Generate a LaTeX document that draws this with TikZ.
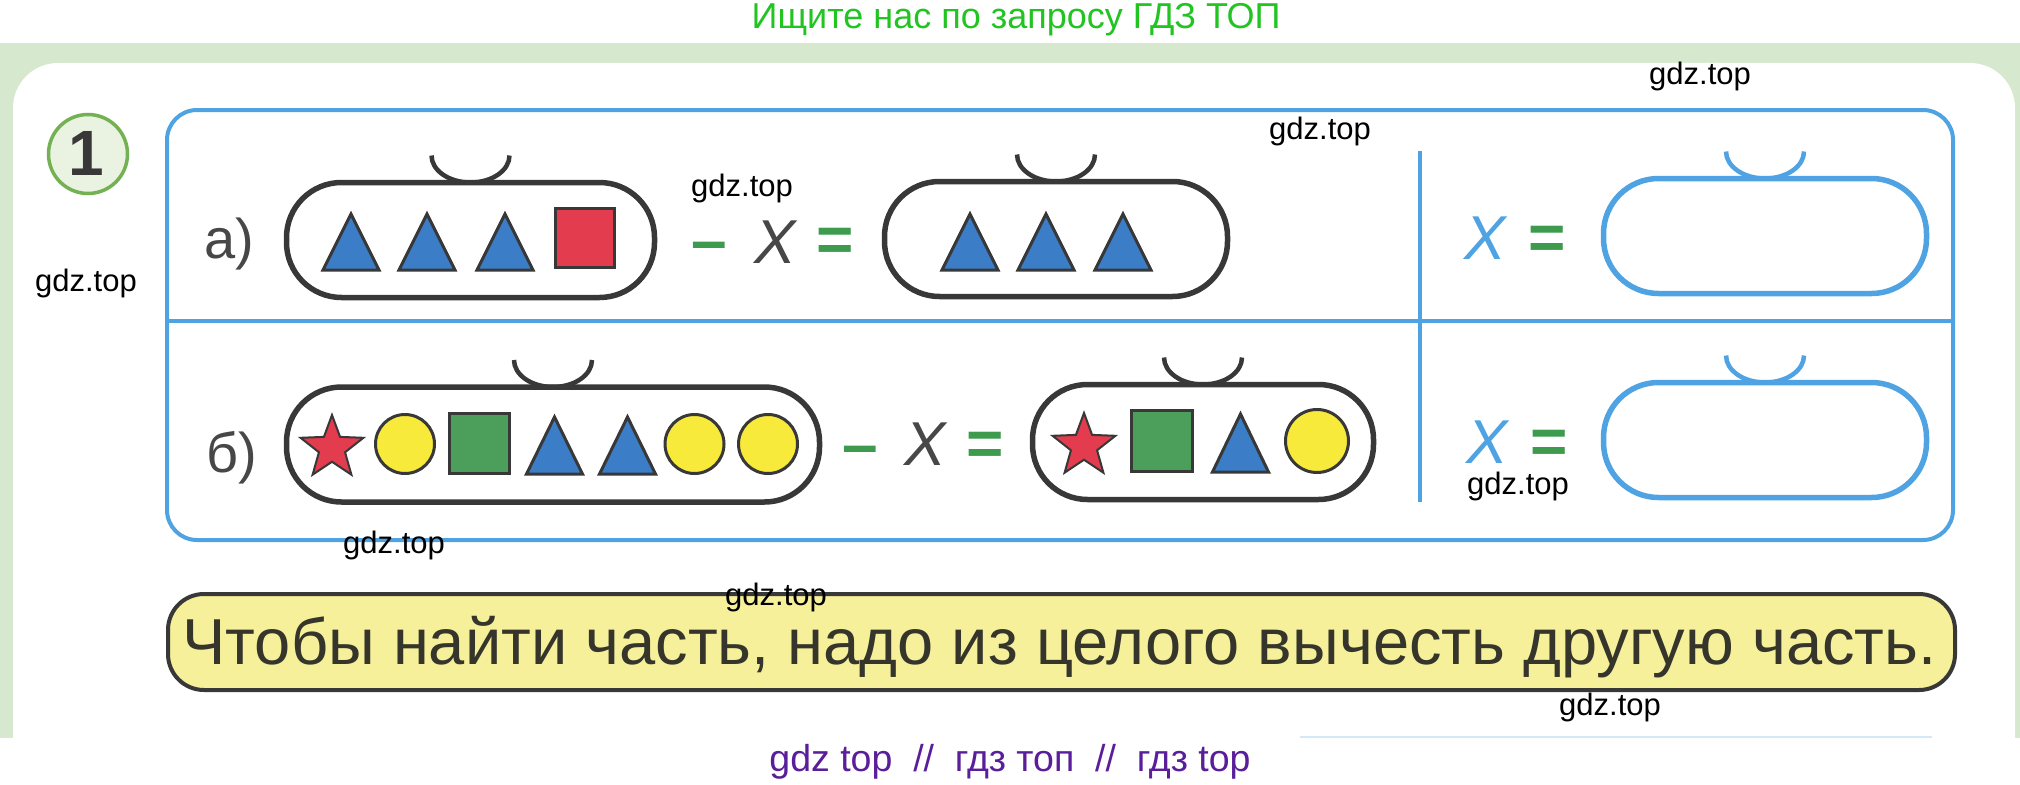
\documentclass[tikz,border=0pt]{standalone}
\usepackage{fontspec}
\setmainfont{Liberation Sans}
\usetikzlibrary{shapes.geometric}
\newcommand\myfs[1]{\fontsize{#1}{#1}\selectfont}
\definecolor{pagegreen}{HTML}{D6E8CD}
\definecolor{frameblue}{HTML}{4FA3E2}
\definecolor{darkline}{HTML}{383838}
\definecolor{triblue}{HTML}{3C7DC8}
\definecolor{shred}{HTML}{E23C4E}
\definecolor{shyellow}{HTML}{F8EA3A}
\definecolor{shgreen}{HTML}{4C9E5B}
\definecolor{eqgreen}{HTML}{3E9B4E}
\definecolor{txtgray}{HTML}{474747}
\definecolor{numgreen}{HTML}{74B152}
\definecolor{numfill}{HTML}{EAF2E2}
\definecolor{rulefill}{HTML}{F6F09A}
\definecolor{ruletext}{HTML}{35352C}
\definecolor{topgreen}{HTML}{22C422}
\definecolor{botpurple}{HTML}{5A1E9A}
\definecolor{faintblue}{HTML}{D3EAF6}
\newcommand\tri[3]{\filldraw[tri] ({#1-28},#2) -- (#1,#3) -- ({#1+28},#2) -- cycle;}
\begin{document}
\begin{tikzpicture}[x=1pt,y=-1pt,
  every node/.style={inner sep=0pt,outer sep=0pt},
  wm/.style={font=\myfs{31},text=black},
  pill/.style={draw=darkline,line width=5.5pt,rounded corners=55pt,minimum height=115pt},
  bpill/.style={draw=frameblue,line width=5.5pt,rounded corners=55pt,minimum height=115pt},
  cup/.style={draw=darkline,line width=4.5pt},
  bcup/.style={draw=frameblue,line width=4.5pt},
  tri/.style={fill=triblue,draw=darkline,line width=3pt,line join=miter},
  sqr/.style={rectangle,draw=darkline,line width=3pt},
  dot/.style={circle,fill=shyellow,draw=darkline,line width=3pt},
  starsh/.style={star,star points=5,star point ratio=2.4,fill=shred,draw=darkline,line width=2pt,minimum size=66pt},
  lbl/.style={font=\myfs{56},text=txtgray,anchor=base west},
  xg/.style={font={\myfs{62}\itshape},text=txtgray,anchor=base},
  xb/.style={font={\myfs{62}\itshape},text=frameblue,anchor=base},
  eq/.style={font={\myfs{64}\bfseries},text=eqgreen,anchor=base},
  frame/.style={draw=frameblue,line width=4pt}
]
\useasboundingbox (0,0) rectangle (2020,784);
% page background
\fill[white] (0,0) rectangle (2020,784);
\fill[pagegreen] (0,43) rectangle (2020,738);
\fill[white,rounded corners=45pt] (13,63) rectangle (2015,800);
\fill[white] (0,738) rectangle (2020,784);
\draw[faintblue,line width=2.5pt] (1300,737) -- (1932,737);

% header / footer texts
\node[font=\myfs{36},text=topgreen,anchor=base] (toptext) at (1016,29) {Ищите нас по запросу ГДЗ ТОП};
\node[font=\myfs{37.5},text=botpurple,anchor=base] (bottext) at (1010,771) {gdz top\ \ //\ \ гдз топ\ \ //\ \ гдз top};

% task number
\node[circle,draw=numgreen,line width=3.5pt,fill=numfill,minimum size=79pt] (numc) at (88,154) {};
\node[font={\myfs{64}\bfseries},text=darkline] (num) at (86,153) {1};

% frame
\draw[frame,rounded corners=30pt] (167,110) rectangle (1953,540);
\draw[frame] (167,321) -- (1953,321);
\draw[frame] (1420,151) -- (1420,502);

% row a
\node[lbl] (la) at (204,258) {а)};
\node[pill,minimum width=368pt] (pa1) at (470.5,240) {};
\node[pill,minimum width=343pt] (pa2) at (1056,239) {};
\node[bpill,minimum width=323pt] (pa3) at (1765,236) {};
\draw[cup] ([shift={(-39,-27)}]pa1.north) arc[start angle=180,end angle=0,x radius=39,y radius=27];
\draw[cup] ([shift={(-39,-27)}]pa2.north) arc[start angle=180,end angle=0,x radius=39,y radius=27];
\draw[bcup] ([shift={(-39,-27)}]pa3.north) arc[start angle=180,end angle=0,x radius=39,y radius=27];
\tri{351}{270}{214}
\tri{427}{270}{214}
\tri{505}{270}{214}
\node[sqr,fill=shred,minimum size=59pt] (sqa) at (585,237.5) {};
\tri{970}{270}{214}
\tri{1046}{270}{214}
\tri{1123}{270}{214}
\node[eq] (mina) at (709.5,262) {–};
\node[xg] (xa) at (775,263) {X};
\node[eq] (eqa) at (835.5,261) {=};
\node[xb] (xba) at (1485,259) {X};
\node[eq] (eqba) at (1547.5,259) {=};

% row b
\node[lbl] (lb) at (206,472) {б)};
\node[pill,minimum width=533pt] (pb1) at (553,444.5) {};
\node[pill,minimum width=341pt] (pb2) at (1203,442) {};
\node[bpill,minimum width=323pt] (pb3) at (1765,440) {};
\draw[cup] ([shift={(-39,-27)}]pb1.north) arc[start angle=180,end angle=0,x radius=39,y radius=27];
\draw[cup] ([shift={(-39,-27)}]pb2.north) arc[start angle=180,end angle=0,x radius=39,y radius=27];
\draw[bcup] ([shift={(-39,-27)}]pb3.north) arc[start angle=180,end angle=0,x radius=39,y radius=27];
\node[starsh] (stb1) at (332,448) {};
\node[dot,minimum size=59pt] (cb1) at (405,444) {};
\node[sqr,fill=shgreen,minimum size=60pt] (sqb1) at (479.5,443.5) {};
\tri{554.5}{474}{417}
\tri{627.5}{474}{417}
\node[dot,minimum size=59pt] (cb2) at (694.5,444) {};
\node[dot,minimum size=59pt] (cb3) at (768,444) {};
\node[eq] (minb) at (860,466) {–};
\node[xg] (xb2) at (925,465) {X};
\node[eq] (eqb) at (985,465) {=};
\node[starsh] (stb2) at (1084,446) {};
\node[sqr,fill=shgreen,minimum size=61pt] (sqb2) at (1161.5,441) {};
\tri{1240.5}{472}{414}
\node[dot,minimum size=63pt] (cb4) at (1317,441) {};
\node[xb] (xbb) at (1487,463) {X};
\node[eq] (eqbb) at (1549,463) {=};

% rule box
\node[draw=darkline,line width=4pt,fill=rulefill,rounded corners=36pt,minimum width=1787pt,minimum height=96pt] (rulebox) at (1061.5,642) {};
\node[font=\myfs{65},text=ruletext,anchor=base] (ruletxt) at (1059.5,664) {Чтобы найти часть, надо из целого вычесть другую часть.};

% watermarks
\node[wm] (wm1) at (1700,76) {gdz.top};
\node[wm] (wm2) at (1320,131) {gdz.top};
\node[wm] (wm3) at (742,188) {gdz.top};
\node[wm] (wm4) at (86,283) {gdz.top};
\node[wm] (wm5) at (1518,486) {gdz.top};
\node[wm] (wm6) at (394,545) {gdz.top};
\node[wm] (wm7) at (776,597) {gdz.top};
\node[wm] (wm8) at (1610,707) {gdz.top};
\end{tikzpicture}
\end{document}
